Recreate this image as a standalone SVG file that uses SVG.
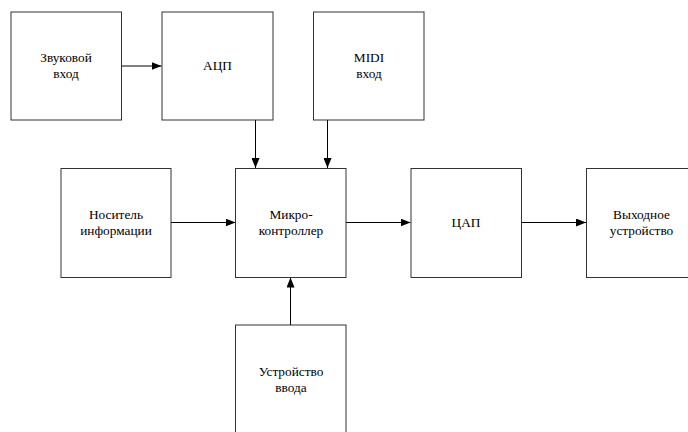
<svg xmlns="http://www.w3.org/2000/svg" width="688" height="432" viewBox="0 0 688 432">
<defs>
<style>
.box{fill:#fff;stroke:#333;stroke-width:1}
.edge{stroke:#000;stroke-width:1;fill:none;marker-end:url(#arr)}
</style>
<marker id="arr" viewBox="0 0 10 8" refX="10" refY="4" markerWidth="10" markerHeight="8" markerUnits="userSpaceOnUse" orient="auto">
<path d="M0,0 L10,4 L0,8 Z" fill="#000"/>
</marker>
</defs>
<rect width="688" height="432" fill="#fff"/>
<g id="edges">
<path class="edge" d="M121.5,66 H161.5"/>
<path class="edge" d="M255.5,120 V168"/>
<path class="edge" d="M327.5,120 V168"/>
<path class="edge" d="M171,222.5 H235.5"/>
<path class="edge" d="M346,222.5 H410.5"/>
<path class="edge" d="M522,222.5 H586"/>
<path class="edge" d="M290.5,325 V277.5"/>
</g>
<g id="n1"><rect class="box" x="11" y="12" width="110.5" height="108"/><text font-family="Liberation Serif" font-size="13.3" text-anchor="middle" x="66" y="62">Звуковой</text><text font-family="Liberation Serif" font-size="13.3" text-anchor="middle" x="66" y="78">вход</text></g>
<g id="n2"><rect class="box" x="162" y="12" width="111" height="108"/><text font-family="Liberation Serif" font-size="13.3" text-anchor="middle" x="217.5" y="69.5">АЦП</text></g>
<g id="n3"><rect class="box" x="313.5" y="12" width="110.5" height="108"/><text font-family="Liberation Serif" font-size="13.3" text-anchor="middle" x="369" y="62">MIDI</text><text font-family="Liberation Serif" font-size="13.3" text-anchor="middle" x="369" y="78">вход</text></g>
<g id="n4"><rect class="box" x="61" y="168.5" width="110" height="109"/><text font-family="Liberation Serif" font-size="13.3" text-anchor="middle" x="116" y="219">Носитель</text><text font-family="Liberation Serif" font-size="13.3" text-anchor="middle" x="116" y="235">информации</text></g>
<g id="n5"><rect class="box" x="235.5" y="168.5" width="110.5" height="109"/><text font-family="Liberation Serif" font-size="13.3" text-anchor="middle" x="291" y="219">Микро-</text><text font-family="Liberation Serif" font-size="13.3" text-anchor="middle" x="291" y="235">контроллер</text></g>
<g id="n6"><rect class="box" x="411" y="168.5" width="110.5" height="109"/><text font-family="Liberation Serif" font-size="13.3" text-anchor="middle" x="466" y="227">ЦАП</text></g>
<g id="n7"><rect class="box" x="586.5" y="168.5" width="110.5" height="109"/><text font-family="Liberation Serif" font-size="13.3" text-anchor="middle" x="641.5" y="219">Выходное</text><text font-family="Liberation Serif" font-size="13.3" text-anchor="middle" x="641.5" y="235">устройство</text></g>
<g id="n8"><rect class="box" x="235.5" y="325" width="110.5" height="110"/><text font-family="Liberation Serif" font-size="13.3" text-anchor="middle" x="291" y="376">Устройство</text><text font-family="Liberation Serif" font-size="13.3" text-anchor="middle" x="291" y="392">ввода</text></g>
</svg>
